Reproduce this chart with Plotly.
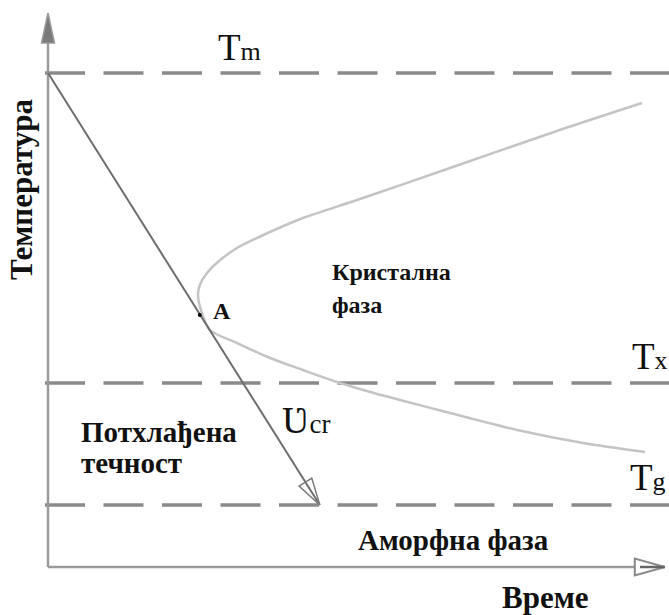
import math
import plotly.graph_objects as go

# ---------------- data (time / temperature in arbitrary units) ----------------
T_m = 98.8          # melting temperature
T_x = 36.8          # crystallisation temperature
T_g = 12.4          # glass transition temperature

# TTT "nose" curve, upper branch (nose -> long times)
upper_t = [25.0, 25.3, 26.5, 28.7, 31.5, 37.0, 42.5, 51.5, 67.0, 85.3, 99.0]
upper_T = [54.4, 56.4, 58.8, 61.4, 63.8, 67.0, 69.8, 73.4, 79.8, 87.4, 92.8]
# lower branch (nose -> long times)
lower_t = [25.0, 25.5, 27.0, 31.5, 37.0, 42.5, 48.2, 53.7, 58.7, 67.0, 78.2, 89.2, 99.5]
lower_T = [54.4, 51.4, 47.4, 44.8, 41.8, 39.4, 37.0, 35.0, 33.4, 30.8, 27.4, 24.8, 23.0]

# critical cooling path: from Tm at t=0 down to Tg
cool_t = [0.0, 45.3]
cool_T = [T_m, T_g]

# point A on the cooling path
A_t = 25.3
A_T = 50.4

# axis extents
t_axis_end = 102.8
T_axis_end = 110.8

# ---------------- scale (pixels per unit) ----------------
W, H = 669, 615
X0, Y0 = 48.0, 567.0          # origin position in pixels
PX_T, PX_K = 6.0, 5.0


def to_px(t, T):
    return X0 + t * PX_T, Y0 - T * PX_K


def from_px(x, y):
    return (x - X0) / PX_T, (Y0 - y) / PX_K


def arrow_head(tip_t, tip_T, from_t, from_T, length, half_w):
    tx, ty = to_px(tip_t, tip_T)
    fx, fy = to_px(from_t, from_T)
    dx, dy = tx - fx, ty - fy
    n = math.hypot(dx, dy)
    ux, uy = dx / n, dy / n
    bx, by = tx - length * ux, ty - length * uy
    px, py = -uy, ux
    pts = [(tx, ty), (bx + half_w * px, by + half_w * py),
           (bx - half_w * px, by - half_w * py), (tx, ty)]
    conv = [from_px(x, y) for x, y in pts]
    return [c[0] for c in conv], [c[1] for c in conv]


fig = go.Figure()

GRAY_DASH = "#8a8a8a"
AXIS = "#9a9a9a"

# dashed temperature levels
for lvl in (T_m, T_x, T_g):
    fig.add_trace(go.Scatter(
        x=[-0.5, 104], y=[lvl, lvl], mode="lines",
        line=dict(color=GRAY_DASH, width=3.5, dash="40px,18.5px"),
        hoverinfo="skip", showlegend=False))

# TTT curve
curve_t = upper_t[::-1] + lower_t[1:]
curve_T = upper_T[::-1] + lower_T[1:]
fig.add_trace(go.Scatter(
    x=curve_t, y=curve_T, mode="lines",
    line=dict(color="#c4c4c4", width=2.5, shape="spline", smoothing=0.8),
    hoverinfo="skip", showlegend=False))

# axes
fig.add_trace(go.Scatter(x=[0, 0], y=[0, from_px(0, 43)[1]], mode="lines",
                         line=dict(color=AXIS, width=2.5), hoverinfo="skip", showlegend=False))
fig.add_trace(go.Scatter(x=[0, t_axis_end], y=[0, 0], mode="lines",
                         line=dict(color=AXIS, width=2.5), hoverinfo="skip", showlegend=False))
hx, hy = arrow_head(0, T_axis_end, 0, 0, 30, 6.5)
fig.add_trace(go.Scatter(x=hx, y=hy, mode="lines", fill="toself", fillcolor="#7a7a7a",
                         line=dict(color="#9a9a9a", width=1.5), hoverinfo="skip", showlegend=False))
hx, hy = arrow_head(t_axis_end, 0, 0, 0, 30, 8.5)
fig.add_trace(go.Scatter(x=hx, y=hy, mode="lines", fill="toself", fillcolor="white",
                         line=dict(color="#8a8a8a", width=2), hoverinfo="skip", showlegend=False))
fig.add_trace(go.Scatter(x=[from_px(640, 0)[0], t_axis_end], y=[0, 0], mode="lines",
                         line=dict(color="#666", width=2.5), hoverinfo="skip", showlegend=False))

# cooling path with open arrow head
fig.add_trace(go.Scatter(x=cool_t, y=cool_T, mode="lines",
                         line=dict(color="#6e6e6e", width=2), hoverinfo="skip", showlegend=False))
hx, hy = arrow_head(cool_t[1], cool_T[1], cool_t[0], cool_T[0], 27, 7.5)
fig.add_trace(go.Scatter(x=hx, y=hy, mode="lines",
                         line=dict(color="#7a7a7a", width=1.5), hoverinfo="skip", showlegend=False))

# point A
fig.add_trace(go.Scatter(x=[A_t], y=[A_T], mode="markers",
                         marker=dict(color="black", size=4), hoverinfo="skip", showlegend=False))

SERIF = "Liberation Serif"


def label(text, xpx, ypx, size, bold=True, anchor="left", angle=0):
    t, T = from_px(xpx, ypx)
    fig.add_annotation(x=t, y=T, xref="x", yref="y", text=f"<b>{text}</b>" if bold else text,
                       showarrow=False, xanchor=anchor, yanchor="middle", textangle=angle,
                       font=dict(family=SERIF, size=size, color="#111"))


label("T<span style='font-size:26px'>m</span>", 216, 47, 37, bold=False)
label("T<span style='font-size:26px'>x</span>", 630, 356, 37, bold=False)
label("T<span style='font-size:26px'>g</span>", 628, 477, 37, bold=False)
label("Кристална", 330, 272, 24)
label("фаза", 330, 305, 24)
label("A", 211, 311, 24)
label("Потхлађена", 79, 432, 29)
label("течност", 79, 463, 29)
label("Ʋ<span style='font-size:27px'>cr</span>", 280, 420, 38, bold=False)
label("Аморфна фаза", 356, 540, 29)
label("Време", 545, 597, 31, anchor="center")
label("Температура", 21, 190, 31, anchor="center", angle=-90)

fig.update_layout(
    width=W, height=H, margin=dict(l=0, r=0, t=0, b=0),
    paper_bgcolor="white", plot_bgcolor="white",
    xaxis=dict(range=[from_px(0, 0)[0], from_px(W, 0)[0]], visible=False, fixedrange=True),
    yaxis=dict(range=[from_px(0, H)[1], from_px(0, 0)[1]], visible=False, fixedrange=True),
)

fig.write_html("out.html",
               config={"displayModeBar": False, "staticPlot": True},
               post_script="document.body.style.margin='0';document.body.style.overflow='hidden';")
